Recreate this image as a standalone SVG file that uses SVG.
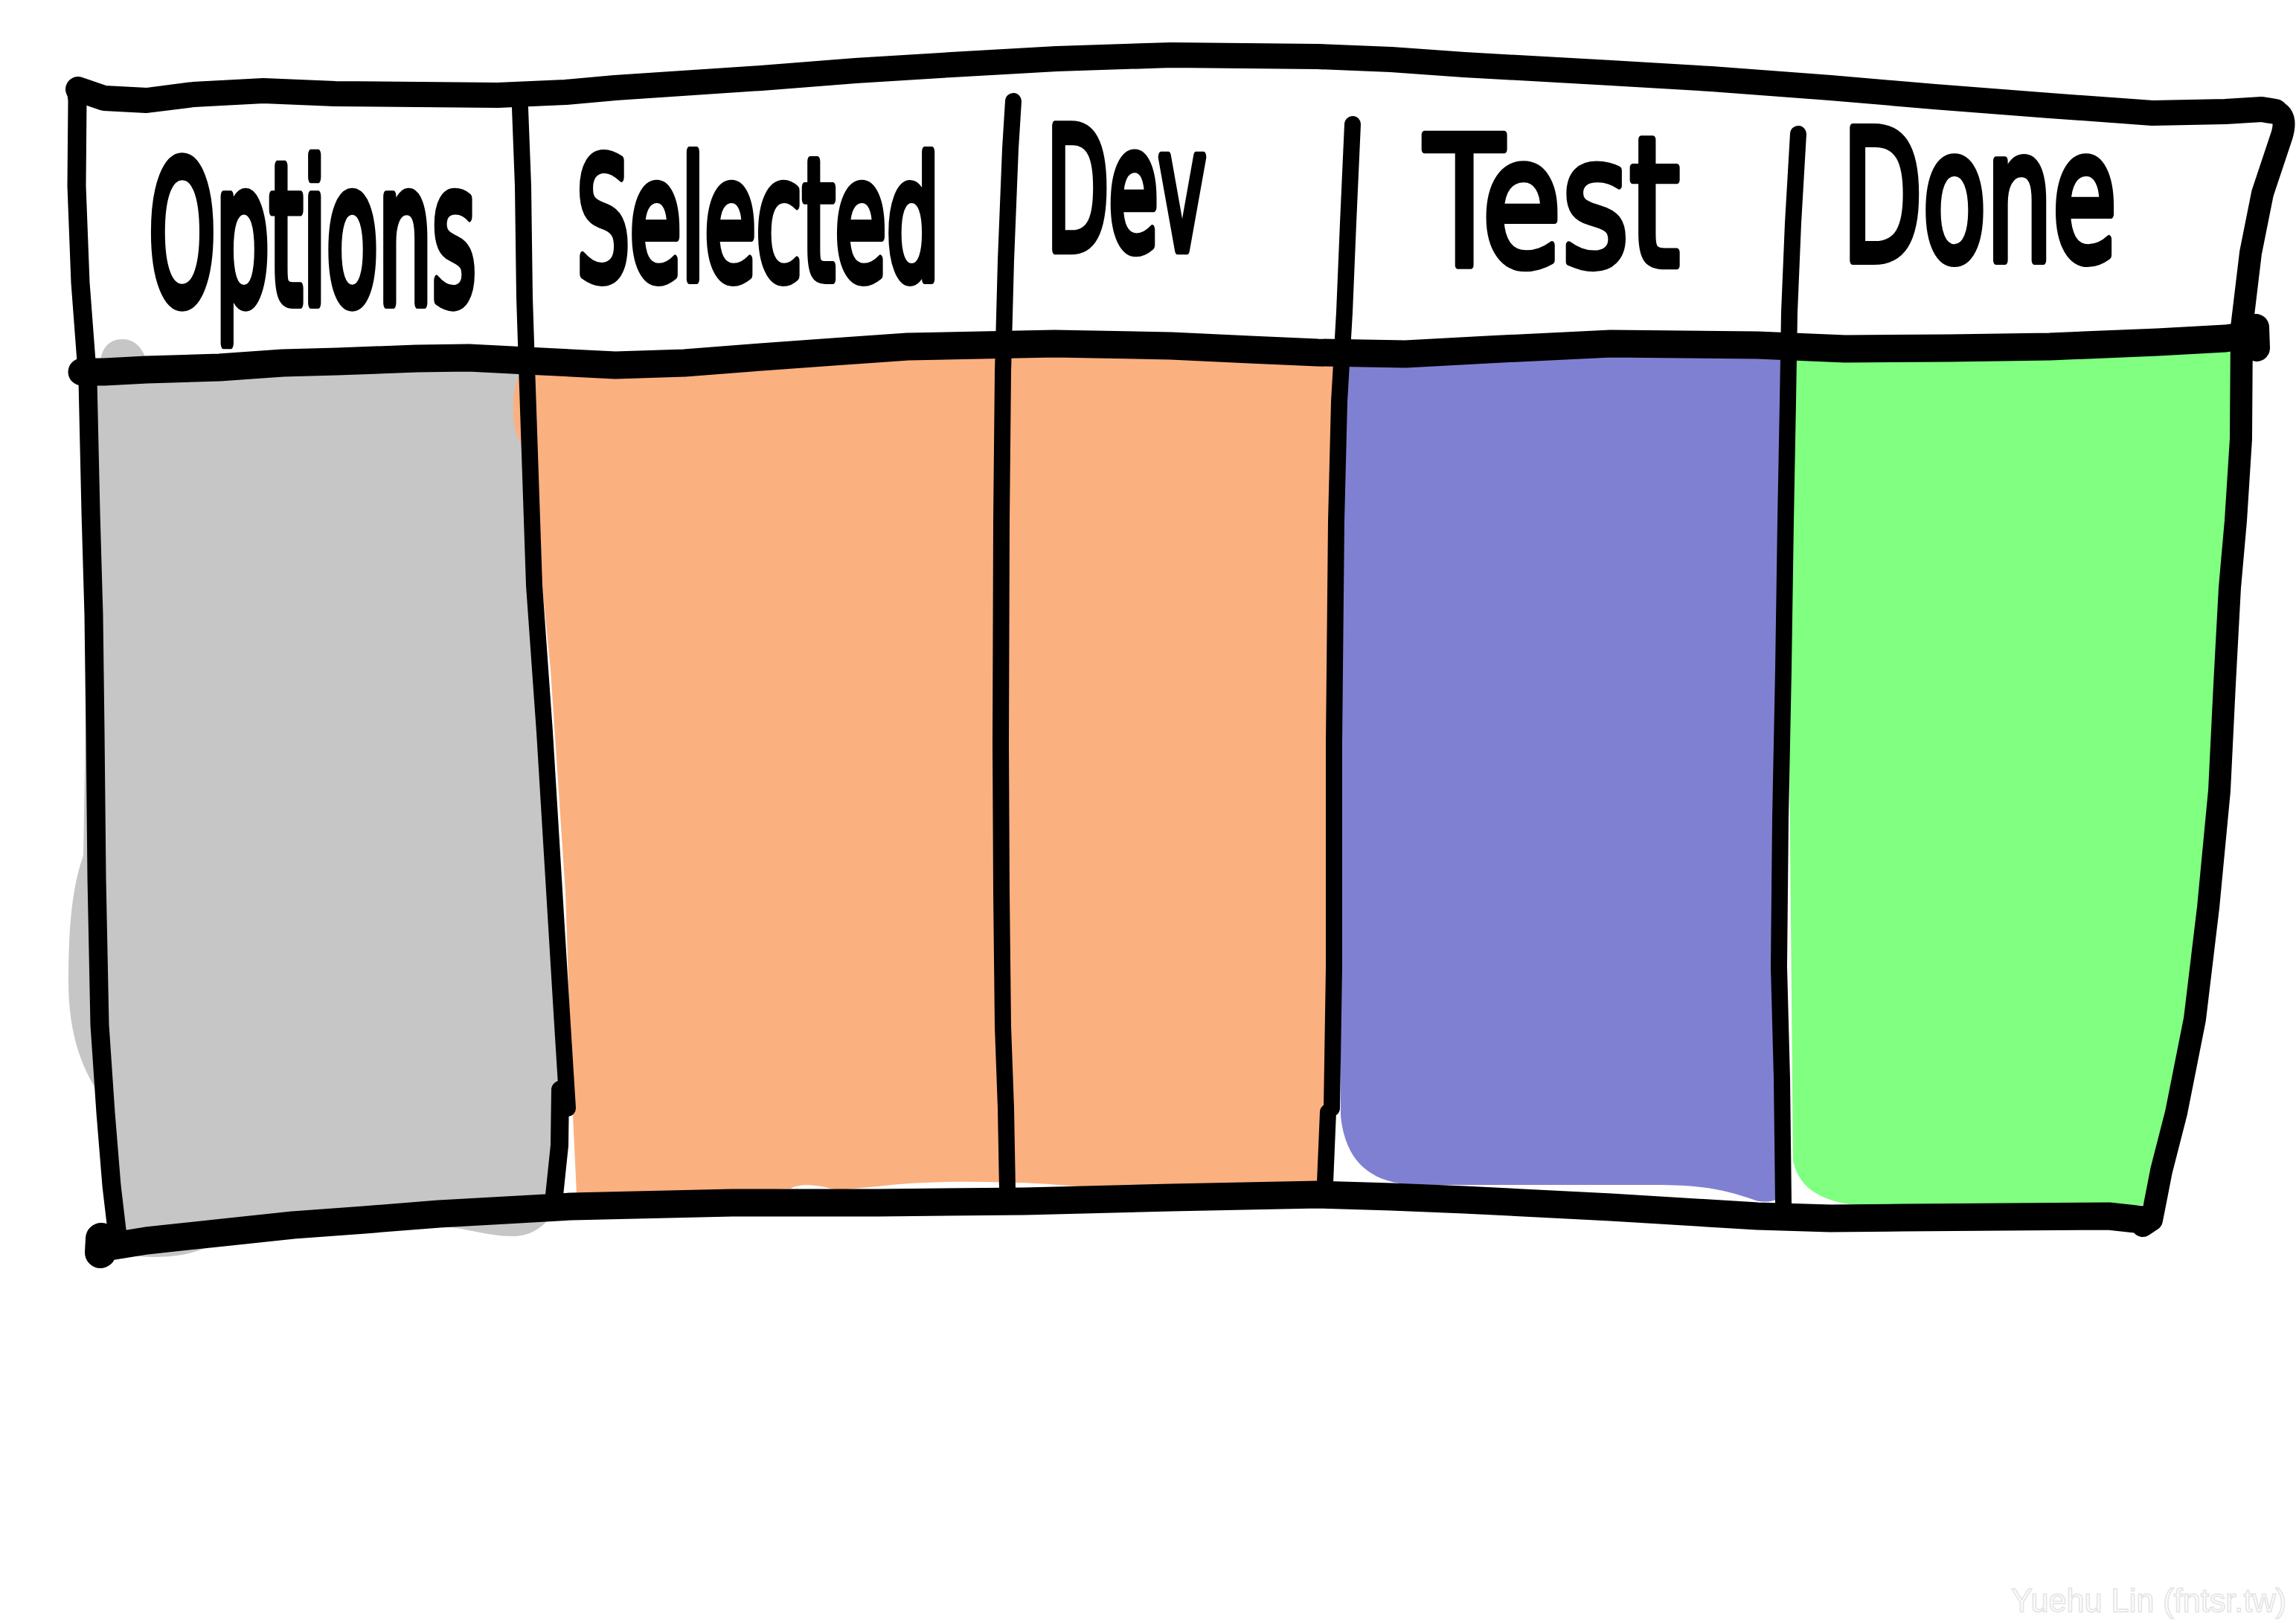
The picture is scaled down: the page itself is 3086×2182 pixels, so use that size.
<svg xmlns="http://www.w3.org/2000/svg" width="3086" height="2182" viewBox="0 0 3086 2182">
<style>
.ink{fill:none;stroke:#000;stroke-linecap:round;stroke-linejoin:round}
.frame{stroke-width:30}
.rule{stroke-width:37}
.div{stroke-width:22}
.hand{font-family:"DejaVu Sans","Liberation Sans",sans-serif;font-weight:normal;fill:#000;stroke:#000;stroke-width:7;stroke-linejoin:round}
.mark{font-family:"Liberation Sans",Arial,sans-serif;font-size:45px;fill:#fff;stroke:#e4e4e4;stroke-width:1.6}
</style>
<rect width="3086" height="2182" fill="#fff"/>
<g id="fills">
<path id="fill-options" fill="#c6c6c6" d="M134,505 C132,470 145,456 165,456 C185,456 197,475 199,497 L708,485 L718,787 L744,1181 L760,1480 L748,1612 C745,1640 720,1662 690,1662 C650,1662 620,1648 580,1648 L500,1650 C420,1655 330,1662 270,1680 C240,1692 200,1692 160,1686 L150,1600 L140,1480 C110,1440 92,1390 92,1320 C92,1240 98,1190 112,1150 L118,800 L125,510 Z"/>
<path id="fill-selected-dev" fill="#fbb080" d="M690,560 C688,510 700,492 720,492 L827,495 L1023,484 L1220,470 L1417,466 L1574,470 L1690,475 C1700,450 1750,445 1765,476 L1800,480 L1803,700 L1800,1000 L1797,1300 L1793,1480 L1775,1596 L1560,1600 C1470,1600 1420,1590 1358,1590 C1300,1588 1240,1588 1180,1595 L1125,1600 C1100,1593 1075,1590 1063,1598 L1013,1600 L775,1605 L770,1500 L760,1200 L740,900 L712,620 C705,600 692,590 690,560 Z"/>
<path id="fill-test" fill="#8080d2" d="M1800,476 L1889,480 L2000,474 L2165,466 L2362,468 L2405,470 L2400,1600 C2395,1615 2375,1618 2360,1614 C2320,1600 2290,1593 2224,1593 L1900,1593 C1840,1590 1808,1560 1802,1500 Z"/>
<path id="fill-done" fill="#80ff80" d="M2400,472 L2480,474 L2620,472 L2755,470 L2900,464 L3012,458 L3013,590 L3005,700 L2997,790 L2983,1063 L2966,1220 L2945,1370 L2920,1496 L2900,1574 L2880,1620 L2520,1622 C2470,1620 2420,1610 2410,1560 Z"/>
</g>
<g id="board-lines">
<path id="top-border" class="ink rule" style="stroke-width:34" d="M105,120 L140,132 L197,135 L260,127 L354,122 L450,126 L669,128 L760,124 L827,118 L1023,105 L1150,95 L1279,87 L1420,79 L1574,74 L1771,76 L1870,80 L1968,87 L2165,98 L2300,106 L2460,118 L2600,130 L2755,142 L2893,152 L2991,150 L3040,147 L3058,150"/>
<path id="right-border" class="ink frame" d="M3058,150 C3070,153 3072,165 3067,182 L3041,260 L3025,340 L3013,440 L3012,590 L3005,700 L2997,790 L2990,920 L2983,1063 L2968,1220 L2950,1370 L2925,1496 L2905,1574 L2897,1615 L2892,1640 L2880,1648"/>
<path id="left-border" class="ink frame" style="stroke-width:25" d="M102,118 L104,135 L103,250 L108,380 L118,512 L122,689 L126,827 L128,984 L130,1181 L134,1378 L142,1496 L150,1594 L158,1662"/>
<path id="header-rule" class="ink rule" d="M110,500 L140,500 L197,497 L295,494 L380,488 L453,486 L560,482 L630,481 L708,485 L827,491 L920,488 L1023,480 L1120,473 L1220,466 L1417,462 L1574,465 L1680,470 L1771,474 L1889,476 L2000,470 L2165,462 L2362,464 L2480,469 L2620,468 L2755,466 L2900,460 L2991,455 L3030,450"/>
<path class="ink" style="stroke-width:36" d="M3032,440 L3033,468"/>
<path id="bottom-border" class="ink rule" d="M135,1678 L197,1668 L300,1657 L394,1647 L490,1640 L590,1632 L680,1627 L768,1622 L984,1617 L1181,1617 L1378,1615 L1574,1610 L1771,1606 L1870,1609 L1968,1613 L2165,1623 L2362,1635 L2460,1638 L2558,1637 L2834,1635 L2880,1640"/>
<path class="ink" style="stroke-width:42" d="M136,1665 L135,1684"/>
<path id="divider-1" class="ink div" d="M699,145 L703,250 L705,400 L708,492 L718,787 L732,984 L744,1181 L756,1378 L763,1490"/>
<path class="ink div" style="stroke-width:24" d="M753,1465 L752,1540 L745,1607"/>
<path id="divider-2" class="ink div" d="M1362,136 L1358,200 L1352,350 L1348,500 L1346,700 L1345,1000 L1346,1200 L1348,1380 L1352,1490 L1354,1600"/>
<path id="divider-3" class="ink div" d="M1818,167 L1812,300 L1807,420 L1800,540 L1796,700 L1793,1000 L1793,1300 L1790,1490"/>
<path class="ink div" d="M1785,1495 L1781,1590"/>
<path id="divider-4" class="ink div" d="M2417,180 L2410,300 L2405,420 L2403,540 L2400,700 L2397,900 L2393,1100 L2391,1300 L2395,1450 L2397,1618"/>
</g>
<g id="headers">
<text id="h-options" class="hand" transform="translate(200,407) scale(1,2.29)" font-size="114" textLength="440" lengthAdjust="spacingAndGlyphs">Options</text>
<text id="h-selected" class="hand" transform="translate(775,375) scale(1,2.01)" font-size="112" textLength="488" lengthAdjust="spacingAndGlyphs">Selected</text>
<text id="h-dev" class="hand" transform="translate(1407,335) scale(1,2.09)" font-size="108" textLength="214" lengthAdjust="spacingAndGlyphs">Dev</text>
<text id="h-test" class="hand" transform="translate(1915,357) scale(1,1.51)" font-size="160" textLength="343" lengthAdjust="spacingAndGlyphs">Test</text>
<text id="h-done" class="hand" transform="translate(2476,350) scale(1,1.74)" font-size="140" textLength="369" lengthAdjust="spacingAndGlyphs">Done</text>
</g>
<text id="watermark" class="mark" x="2703" y="2167" textLength="370" lengthAdjust="spacingAndGlyphs">Yuehu Lin (fntsr.tw)</text>
</svg>
